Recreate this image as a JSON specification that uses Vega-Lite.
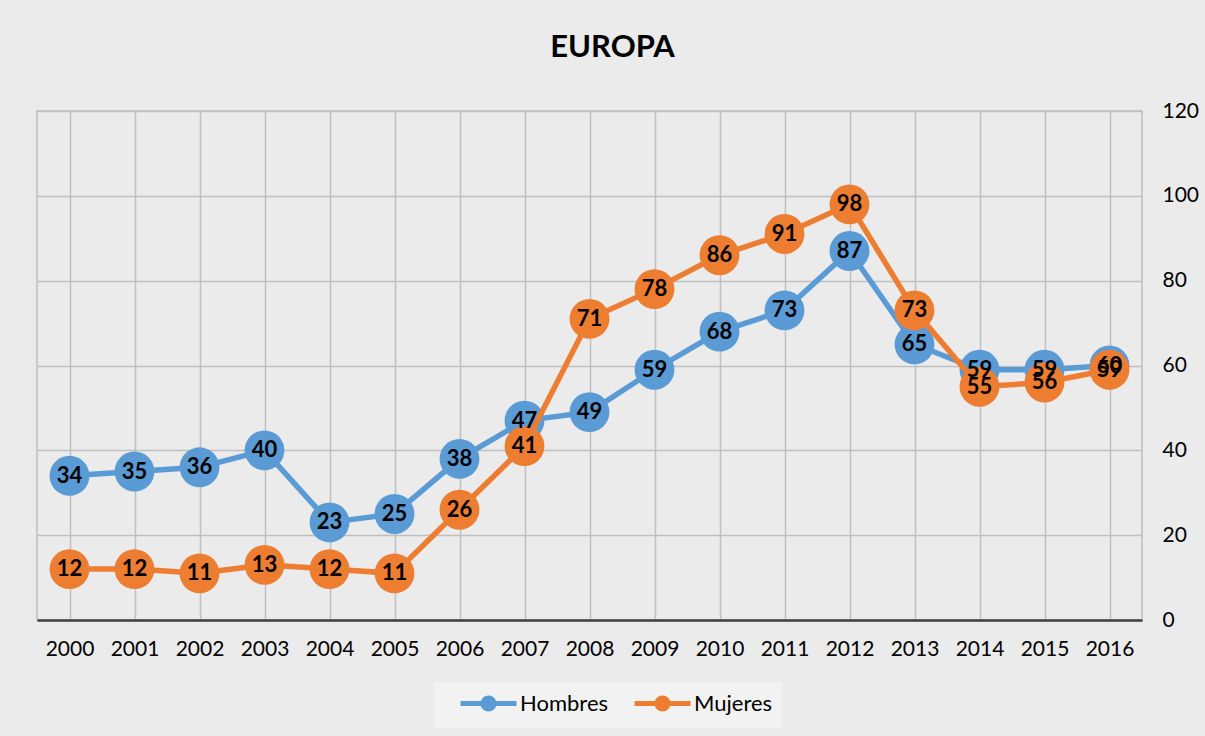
{
  "$schema": "https://vega.github.io/schema/vega-lite/v6.json",
  "width": 1105,
  "height": 509,
  "autosize": {"type": "none"},
  "padding": {"left": 37, "top": 111, "right": 63, "bottom": 116},
  "background": "#ebebeb",
  "title": {"text": "EUROPA", "fontSize": 31, "font": "Lato", "fontWeight": "bold", "color": "#000000", "offset": 36, "dx": 23},
  "config": {"view": {"stroke": "#bfbfbf", "strokeWidth": 1.5}},
  "data": {"values": [
    {"year": "2000", "serie": "Hombres", "value": 34},
    {"year": "2001", "serie": "Hombres", "value": 35},
    {"year": "2002", "serie": "Hombres", "value": 36},
    {"year": "2003", "serie": "Hombres", "value": 40},
    {"year": "2004", "serie": "Hombres", "value": 23},
    {"year": "2005", "serie": "Hombres", "value": 25},
    {"year": "2006", "serie": "Hombres", "value": 38},
    {"year": "2007", "serie": "Hombres", "value": 47},
    {"year": "2008", "serie": "Hombres", "value": 49},
    {"year": "2009", "serie": "Hombres", "value": 59},
    {"year": "2010", "serie": "Hombres", "value": 68},
    {"year": "2011", "serie": "Hombres", "value": 73},
    {"year": "2012", "serie": "Hombres", "value": 87},
    {"year": "2013", "serie": "Hombres", "value": 65},
    {"year": "2014", "serie": "Hombres", "value": 59},
    {"year": "2015", "serie": "Hombres", "value": 59},
    {"year": "2016", "serie": "Hombres", "value": 60},
    {"year": "2000", "serie": "Mujeres", "value": 12},
    {"year": "2001", "serie": "Mujeres", "value": 12},
    {"year": "2002", "serie": "Mujeres", "value": 11},
    {"year": "2003", "serie": "Mujeres", "value": 13},
    {"year": "2004", "serie": "Mujeres", "value": 12},
    {"year": "2005", "serie": "Mujeres", "value": 11},
    {"year": "2006", "serie": "Mujeres", "value": 26},
    {"year": "2007", "serie": "Mujeres", "value": 41},
    {"year": "2008", "serie": "Mujeres", "value": 71},
    {"year": "2009", "serie": "Mujeres", "value": 78},
    {"year": "2010", "serie": "Mujeres", "value": 86},
    {"year": "2011", "serie": "Mujeres", "value": 91},
    {"year": "2012", "serie": "Mujeres", "value": 98},
    {"year": "2013", "serie": "Mujeres", "value": 73},
    {"year": "2014", "serie": "Mujeres", "value": 55},
    {"year": "2015", "serie": "Mujeres", "value": 56},
    {"year": "2016", "serie": "Mujeres", "value": 59}
  ]},
  "encoding": {
    "x": {"field": "year", "type": "ordinal",
      "scale": {"paddingInner": 0, "paddingOuter": 0},
      "axis": {"title": null, "labelAngle": 0, "labelFont": "Lato", "labelFontSize": 21, "labelColor": "#000000",
        "labelPadding": 18, "ticks": false, "domainColor": "#404040", "domainWidth": 2.5,
        "grid": true, "bandPosition": 0, "gridColor": "#bfbfbf", "gridWidth": 1.5}},
    "y": {"field": "value", "type": "quantitative",
      "scale": {"domain": [0, 120], "nice": false},
      "axis": {"orient": "right", "title": null, "values": [0, 20, 40, 60, 80, 100, 120],
        "labelFont": "Lato", "labelFontSize": 21, "labelColor": "#000000", "labelPadding": 20,
        "domain": false, "ticks": false, "gridColor": "#bfbfbf", "gridWidth": 1.5}},
    "color": {"field": "serie", "type": "nominal",
      "scale": {"domain": ["Hombres", "Mujeres"], "range": ["#5b9bd5", "#ed7d31"]},
      "legend": {"title": null, "orient": "none", "legendX": 397, "legendY": 571, "direction": "horizontal",
        "fillColor": "#f2f2f2", "padding": 9, "labelFont": "Lato", "labelFontSize": 22, "labelColor": "#000000",
        "symbolType": "M -2.8 0 L 2.8 0 M 0.55 0 A 0.55 0.55 0 1 1 -0.55 0 A 0.55 0.55 0 1 1 0.55 0 Z",
        "symbolSize": 400, "symbolStrokeWidth": 5, "symbolOffset": 33, "labelOffset": 19, "columnPadding": 8,
        "encode": {"symbols": {"update": {"fill": {"scale": "color", "field": "value"}, "stroke": {"scale": "color", "field": "value"}, "opacity": {"value": 1}}}}}}
  },
  "layer": [
    {"transform": [{"filter": "datum.serie === 'Hombres'"}], "mark": {"type": "line", "strokeWidth": 5.5}},
    {"transform": [{"filter": "datum.serie === 'Hombres'"}], "mark": {"type": "point", "filled": true, "size": 1590, "opacity": 1}},
    {"transform": [{"filter": "datum.serie === 'Mujeres'"}], "mark": {"type": "line", "strokeWidth": 5.5}},
    {"transform": [{"filter": "datum.serie === 'Mujeres'"}], "mark": {"type": "point", "filled": true, "size": 1590, "opacity": 1}},
    {"mark": {"type": "text", "font": "Lato", "fontSize": 22, "fontWeight": "bold", "baseline": "middle", "align": "center"},
      "encoding": {"text": {"field": "value", "type": "quantitative"}, "color": {"value": "#000000"}}}
  ]
}
